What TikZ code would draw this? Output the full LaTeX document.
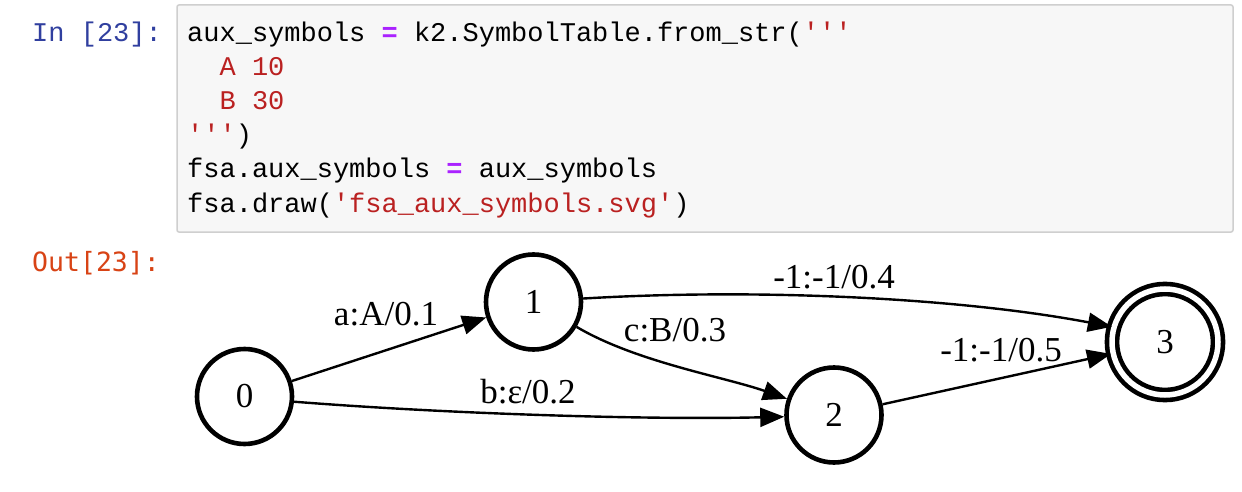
\documentclass[tikz,border=0pt]{standalone}
\usepackage{fontspec}
\setmainfont{Liberation Serif}
\setmonofont{Liberation Mono}
\newfontfamily\outfont{DejaVu Sans Mono}
\usetikzlibrary{arrows.meta}
\definecolor{inblue}{HTML}{303F9F}
\definecolor{outred}{HTML}{D84315}
\definecolor{strred}{HTML}{BA2121}
\definecolor{oppurple}{HTML}{AA22FF}
\definecolor{cellbg}{HTML}{F7F7F7}
\definecolor{cellborder}{HTML}{CFCFCF}
\newcommand{\eqop}{\textcolor{oppurple}{\textbf{=}}}
\newcommand{\sq}{\textcolor{strred}}
\begin{document}
\begin{tikzpicture}[x=1pt,y=-1pt,
  codeline/.style={anchor=base west, inner sep=0pt, font=\ttfamily\fontsize{27}{27}\selectfont},
  prompt/.style={anchor=base west, inner sep=0pt},
  state/.style={circle, draw, line width=4.6pt, minimum size=95pt, inner sep=0pt, font=\fontsize{35}{35}\selectfont},
  accstate/.style={state, double, double distance=5.5pt, minimum size=106pt},
  edge/.style={line width=2.4pt, -{Triangle[length=24pt,width=19pt]}},
  elabel/.style={anchor=base, inner sep=0pt, font=\fontsize{35}{35}\selectfont}]
\useasboundingbox (0,0) rectangle (1242,492);
\fill[white] (0,0) rectangle (1242,492);
% code cell
\draw[fill=cellbg, draw=cellborder, line width=1.5pt, rounded corners=2pt] (177,5) rectangle (1233,232);
\node[prompt, font=\ttfamily\fontsize{27}{27}\selectfont, text=inblue] (inprompt) at (32,42) {In [23]:};
\node[codeline] (c1) at (187,42) {aux\_symbols \eqop{} k2.SymbolTable.from\_str(\sq{'''}};
\node[codeline, text=strred] (c2) at (219.4,76) {A 10};
\node[codeline, text=strred] (c3) at (219.4,110) {B 30};
\node[codeline] (c4) at (187,144) {\sq{'''})};
\node[codeline] (c5) at (187,178) {fsa.aux\_symbols \eqop{} aux\_symbols};
\node[codeline] (c6) at (187,212) {fsa.draw(\sq{'fsa\_aux\_symbols.svg'})};
\node[prompt, font=\outfont\fontsize{26.5}{26.5}\selectfont, text=outred] (outprompt) at (32,271) {Out[23]:};
% graph
\node[state] (n0) at (244.5,396.5) {0};
\node[state] (n1) at (533.5,302) {1};
\node[state] (n2) at (834,415) {2};
\node[accstate] (n3) at (1165,342) {3};
\draw[edge] (n0) -- (n1);
\draw[edge] (n0.-6) .. controls (450,414) and (650,420) .. (n2.182);
\draw[edge] (n1.4) .. controls (760,288) and (960,298) .. (n3.164);
\draw[edge] (n1.-30) .. controls (636,362) and (725,377) .. (n2.161);
\draw[edge] (n2) -- (n3);
\node[elabel] (l01) at (386,325) {a:A/0.1};
\node[elabel] (l02) at (528,403) {b:ε/0.2};
\node[elabel] (l12) at (675,341) {c:B/0.3};
\node[elabel] (l13) at (834,288) {-1:-1/0.4};
\node[elabel] (l23) at (1001,361) {-1:-1/0.5};
\end{tikzpicture}
\end{document}
